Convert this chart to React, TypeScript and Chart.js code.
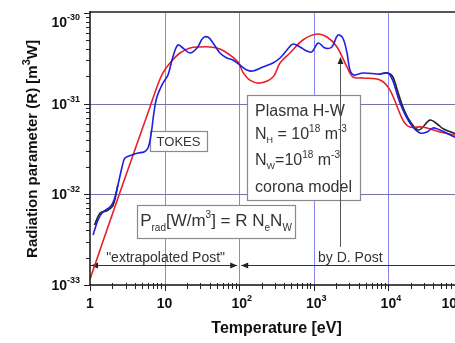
import React, { useEffect, useRef } from "react";
import { Chart, registerables } from "chart.js";

Chart.register(...registerables);

// Corona-model fit (red), temperature in eV, radiation parameter in m^3 W
const fitTemperature = [1, 2.37, 6.37, 7.9, 9.5, 11.8, 16.1, 21.9, 29.8, 40.6, 55.2, 75.2, 96.4, 112, 139, 190, 284, 352, 479, 713, 1104, 1503, 2045, 2788, 3350, 4560, 7700, 10450, 15650, 19400, 28900, 49000, 77000, 100000];
const fitRadiation = [1.16e-33, 9.1e-33, 9.2e-32, 1.53e-31, 2.18e-31, 2.81e-31, 3.62e-31, 4.11e-31, 4.22e-31, 4.22e-31, 4.01e-31, 3.44e-31, 2.88e-31, 2.23e-31, 1.82e-31, 1.69e-31, 1.97e-31, 2.81e-31, 3.62e-31, 5.04e-31, 5.86e-31, 5.43e-31, 4.22e-31, 2.53e-31, 1.97e-31, 1.92e-31, 1.82e-31, 1.42e-31, 6.6e-32, 5.53e-32, 5.53e-32, 4.87e-32, 4.52e-32, 4.29e-32];

// TOKES result (blue)
const tokesTemperature = [1.10, 1.28, 1.49, 1.85, 2.10, 2.37, 2.69, 2.94, 3.66, 4.40, 5.29, 5.99, 6.57, 7.21, 7.91, 9.52, 11.1, 12.9, 15.1, 17.6, 21.9, 27.2, 32.7, 38.0, 44.6, 55.2, 68.5, 82.6, 102, 127, 153, 208, 284, 352, 437, 527, 653, 808, 942, 1145, 1412, 1747, 2100, 2447, 2788, 3050, 3450, 4560, 7700, 9830, 11400, 14300, 19400, 26500, 32900, 39500, 49000, 77000, 100000];
const tokesRadiation = [3.56e-33, 5.21e-33, 6.38e-33, 7.24e-33, 8.66e-33, 1.27e-32, 2.0e-32, 2.52e-32, 2.72e-32, 2.86e-32, 2.93e-32, 3.24e-32, 4.51e-32, 8.09e-32, 1.19e-31, 1.69e-31, 2.07e-31, 3.27e-31, 4.44e-31, 4.11e-31, 3.62e-31, 4.11e-31, 5.30e-31, 5.43e-31, 4.67e-31, 3.62e-31, 3.19e-31, 3.03e-31, 2.67e-31, 2.35e-31, 2.29e-31, 2.53e-31, 2.81e-31, 3.19e-31, 3.91e-31, 4.55e-31, 4.22e-31, 3.81e-31, 3.72e-31, 4.67e-31, 4.11e-31, 4.22e-31, 5.71e-31, 5.30e-31, 3.62e-31, 2.35e-31, 2.07e-31, 2.18e-31, 2.12e-31, 2.18e-31, 1.82e-31, 1.02e-31, 6.12e-32, 4.75e-32, 4.87e-32, 5.40e-32, 5.13e-32, 4.29e-32, 4.07e-32];

// D. Post tabulation (black), shown at low and high temperature
const postTemperature = [1.15, 1.36, 1.69, 2.03, 2.37, 5000, 7700, 9830, 11400, 12900, 15650, 19400, 25600, 36100, 45000, 55000, 77000, 100000];
const postRadiation = [4.59e-33, 6.2e-33, 6.6e-33, 7.5e-33, 1.27e-32, null, 2.12e-31, 2.18e-31, 2.0e-31, 1.49e-31, 9.2e-32, 6.44e-32, 5.13e-32, 6.6e-32, 5.97e-32, 5.25e-32, 4.72e-32, 4.5e-32];

// Axis decades
const xDecades = [1, 10, 100, 1000, 10000, 100000];
const xTickBase = ["1", "10", "10", "10", "10", "10"];
const xTickExp = ["", "", "2", "3", "4", "5"];
const yDecades = [1e-33, 1e-32, 1e-31, 1e-30];
const yTickExp = ["-33", "-32", "-31", "-30"];

// Annotation ranges
const extrapolatedRange = [1, 100];
const postMarkerTemperature = 2240;

const FONT = "'Liberation Sans', Arial, Helvetica, sans-serif";

type Run = { t: string; dy?: number; size?: number };

function runsWidth(ctx: CanvasRenderingContext2D, runs: Run[], size: number, weight: string) {
  let w = 0;
  for (const r of runs) {
    ctx.font = `${weight} ${r.size ?? size}px ${FONT}`;
    w += ctx.measureText(r.t).width;
  }
  return w;
}

function drawRuns(
  ctx: CanvasRenderingContext2D,
  runs: Run[],
  x: number,
  y: number,
  size: number,
  weight: string,
  align: "left" | "center" | "right"
) {
  const total = runsWidth(ctx, runs, size, weight);
  let cx = align === "left" ? x : align === "center" ? x - total / 2 : x - total;
  ctx.textAlign = "left";
  ctx.textBaseline = "alphabetic";
  for (const r of runs) {
    ctx.font = `${weight} ${r.size ?? size}px ${FONT}`;
    ctx.fillText(r.t, cx, y + (r.dy ?? 0));
    cx += ctx.measureText(r.t).width;
  }
}

function arrowHead(ctx: CanvasRenderingContext2D, x: number, y: number, dir: "left" | "right" | "up") {
  const len = 7;
  const half = 3;
  ctx.beginPath();
  if (dir === "left") {
    ctx.moveTo(x, y);
    ctx.lineTo(x + len, y - half);
    ctx.lineTo(x + len, y + half);
  } else if (dir === "right") {
    ctx.moveTo(x, y);
    ctx.lineTo(x - len, y - half);
    ctx.lineTo(x - len, y + half);
  } else {
    ctx.moveTo(x, y);
    ctx.lineTo(x - half, y + len);
    ctx.lineTo(x + half, y + len);
  }
  ctx.closePath();
  ctx.fill();
}

function box(ctx: CanvasRenderingContext2D, x0: number, y0: number, x1: number, y1: number) {
  ctx.fillStyle = "#ffffff";
  ctx.fillRect(x0, y0, x1 - x0, y1 - y0);
  ctx.strokeStyle = "#8a8a8a";
  ctx.lineWidth = 1.2;
  ctx.strokeRect(x0 + 0.5, y0 + 0.5, x1 - x0, y1 - y0);
}

const framePlugin = {
  id: "frame",
  beforeDatasetsDraw(chart: any) {
    const ctx: CanvasRenderingContext2D = chart.ctx;
    const { left, right, top, bottom } = chart.chartArea;
    const xs = chart.scales.x;
    const ys = chart.scales.y;
    ctx.save();

    // decade grid
    ctx.lineWidth = 1;
    ctx.strokeStyle = "rgb(135,135,235)";
    for (const d of xDecades.slice(1, -1)) {
      const px = Math.round(xs.getPixelForValue(d)) + 0.5;
      ctx.beginPath();
      ctx.moveTo(px, top);
      ctx.lineTo(px, bottom);
      ctx.stroke();
    }
    ctx.strokeStyle = "rgb(115,115,165)";
    for (const d of yDecades.slice(1, -1)) {
      const py = Math.round(ys.getPixelForValue(d)) + 0.5;
      ctx.beginPath();
      ctx.moveTo(left, py);
      ctx.lineTo(right, py);
      ctx.stroke();
    }

    // text boxes
    box(ctx, left + 60, top + 118, left + 117, top + 138);
    ctx.fillStyle = "#333";
    drawRuns(ctx, [{ t: "TOKES" }], left + 88.5, top + 133, 13, "normal", "center");

    box(ctx, left + 157, top + 82, left + 270, top + 187);
    ctx.fillStyle = "#333";
    const tx = left + 165;
    drawRuns(ctx, [{ t: "Plasma H-W" }], tx, top + 103, 16, "normal", "left");
    drawRuns(
      ctx,
      [{ t: "N" }, { t: "H", size: 9, dy: 4 }, { t: " = 10" }, { t: "18", size: 10, dy: -7 }, { t: " m" }, { t: "-3", size: 10, dy: -7 }],
      tx, top + 126, 16, "normal", "left"
    );
    drawRuns(
      ctx,
      [{ t: "N" }, { t: "W", size: 9, dy: 4 }, { t: "=10" }, { t: "18", size: 10, dy: -7 }, { t: " m" }, { t: "-3", size: 10, dy: -7 }],
      tx, top + 152, 16, "normal", "left"
    );
    drawRuns(ctx, [{ t: "corona model" }], tx, top + 179, 16, "normal", "left");

    box(ctx, left + 47, top + 192, left + 205, top + 225);
    ctx.fillStyle = "#333";
    drawRuns(
      ctx,
      [
        { t: "P" },
        { t: "rad", size: 10, dy: 5 },
        { t: "[W/m" },
        { t: "3", size: 10, dy: -8 },
        { t: "] = R N" },
        { t: "e", size: 10, dy: 5 },
        { t: "N" },
        { t: "W", size: 10, dy: 5 },
      ],
      left + 126, top + 213, 17, "normal", "center"
    );

    // temperature ranges
    const ay = top + 252.5;
    const x1 = xs.getPixelForValue(extrapolatedRange[0]);
    const x2 = xs.getPixelForValue(extrapolatedRange[1]);
    ctx.strokeStyle = "#333";
    ctx.fillStyle = "#222";
    ctx.lineWidth = 1;
    ctx.beginPath();
    ctx.moveTo(x1, ay);
    ctx.lineTo(x2 - 2, ay);
    ctx.moveTo(x2 + 2, ay);
    ctx.lineTo(right, ay);
    ctx.stroke();
    arrowHead(ctx, x1 + 1, ay, "left");
    arrowHead(ctx, x2 - 2, ay, "right");
    arrowHead(ctx, x2 + 2, ay, "left");
    ctx.fillStyle = "#333";
    drawRuns(ctx, [{ t: "\"extrapolated Post\"" }], (x1 + x2) / 2 + 1, ay - 4, 14, "normal", "center");
    drawRuns(ctx, [{ t: "by D. Post" }], left + 228, ay - 4, 14, "normal", "left");

    // marker line at the D. Post reference temperature
    const mx = Math.round(xs.getPixelForValue(postMarkerTemperature)) + 0.5;
    ctx.strokeStyle = "#555";
    ctx.beginPath();
    ctx.moveTo(mx, top + 48);
    ctx.lineTo(mx, top + 234);
    ctx.stroke();
    ctx.fillStyle = "#222";
    arrowHead(ctx, mx, top + 44, "up");

    ctx.restore();
  },
  afterDatasetsDraw(chart: any) {
    const ctx: CanvasRenderingContext2D = chart.ctx;
    const { left, right, top, bottom } = chart.chartArea;
    const xs = chart.scales.x;
    const ys = chart.scales.y;
    ctx.save();

    // frame
    ctx.strokeStyle = "#555";
    ctx.lineWidth = 2;
    ctx.beginPath();
    ctx.moveTo(left, top - 1);
    ctx.lineTo(right + 20, top - 1);
    ctx.stroke();
    ctx.strokeStyle = "#111";
    ctx.lineWidth = 1.5;
    ctx.beginPath();
    ctx.moveTo(left, top - 2);
    ctx.lineTo(left, bottom + 1);
    ctx.moveTo(left - 1, bottom);
    ctx.lineTo(right + 20, bottom);
    ctx.stroke();

    // ticks
    ctx.lineWidth = 1;
    ctx.strokeStyle = "#222";
    ctx.beginPath();
    for (let i = 0; i < yDecades.length; i++) {
      const d = yDecades[i];
      const py = Math.round(ys.getPixelForValue(d)) + 0.5;
      ctx.moveTo(left - 6, py);
      ctx.lineTo(left, py);
      if (i < yDecades.length - 1) {
        for (let m = 2; m <= 9; m++) {
          const q = Math.round(ys.getPixelForValue(d * m)) + 0.5;
          ctx.moveTo(left - 4, q);
          ctx.lineTo(left, q);
        }
      }
    }
    for (let i = 0; i < xDecades.length; i++) {
      const d = xDecades[i];
      const px = Math.round(xs.getPixelForValue(d)) + 0.5;
      ctx.moveTo(px, bottom);
      ctx.lineTo(px, bottom + 6);
      if (i < xDecades.length - 1) {
        for (let m = 2; m <= 9; m++) {
          const q = Math.round(xs.getPixelForValue(d * m)) + 0.5;
          ctx.moveTo(q, bottom - 2);
          ctx.lineTo(q, bottom + 4);
        }
      }
    }
    ctx.stroke();

    // tick labels: the mantissa "10" sits centred on the tick, exponent to its right
    ctx.fillStyle = "#111";
    for (let i = 0; i < yDecades.length; i++) {
      let py = ys.getPixelForValue(yDecades[i]);
      if (py < top + 8) py = top + 9;
      drawRuns(ctx, [{ t: "10" }, { t: yTickExp[i], size: 9, dy: -7 }], left - 10, py + 5, 14, "bold", "right");
    }
    const canvasRight = 455;
    for (let i = 0; i < xDecades.length; i++) {
      const px = xs.getPixelForValue(xDecades[i]);
      ctx.font = `bold 14px ${FONT}`;
      const baseW = ctx.measureText(xTickBase[i]).width;
      let x0 = px - baseW / 2;
      if (x0 + baseW > canvasRight + 2) x0 = canvasRight + 2 - baseW;
      const runs: Run[] = [{ t: xTickBase[i] }];
      if (xTickExp[i]) runs.push({ t: xTickExp[i], size: 9, dy: -7 });
      drawRuns(ctx, runs, x0, bottom + 23, 14, "bold", "left");
    }

    // axis titles
    ctx.fillStyle = "#111";
    drawRuns(ctx, [{ t: "Temperature [eV]" }], (left + right) / 2, bottom + 48, 16, "bold", "center");
    ctx.save();
    ctx.translate(37, (top + bottom) / 2);
    ctx.rotate(-Math.PI / 2);
    drawRuns(
      ctx,
      [{ t: "Radiation parameter (R) [m" }, { t: "3", size: 11, dy: -7 }, { t: "W]" }],
      0, 0, 15, "bold", "center"
    );
    ctx.restore();
    ctx.restore();
  },
};

export default function App() {
  const ref = useRef<HTMLCanvasElement>(null);

  useEffect(() => {
    const canvas = ref.current;
    if (!canvas) return;
    const chart = new Chart(canvas, {
      type: "line",
      data: {
        datasets: [
          {
            label: "TOKES",
            data: tokesTemperature.map((t, i) => ({ x: t, y: tokesRadiation[i] })),
            borderColor: "#1f1fe0",
            borderWidth: 1.6,
            tension: 0.35,
          },
          {
            label: "fit",
            data: fitTemperature.map((t, i) => ({ x: t, y: fitRadiation[i] })),
            borderColor: "#e8202a",
            borderWidth: 1.6,
            tension: 0.35,
          },
          {
            label: "D. Post",
            data: postTemperature.map((t, i) => ({ x: t, y: postRadiation[i] })),
            borderColor: "#222",
            borderWidth: 1.6,
            tension: 0.35,
            spanGaps: false,
          },
        ],
      },
      options: {
        responsive: false,
        animation: false,
        devicePixelRatio: 1,
        layout: { padding: { left: 90, right: 17, top: 13, bottom: 58 } },
        scales: {
          x: { type: "logarithmic", min: 1, max: 100000, display: false },
          y: { type: "logarithmic", min: 1e-33, max: 1e-30, display: false },
        },
        plugins: { legend: { display: false }, tooltip: { enabled: false } },
        elements: { point: { radius: 0 } },
      },
      plugins: [framePlugin],
    } as any);
    return () => chart.destroy();
  }, []);

  return (
    <div
      style={{
        position: "fixed",
        left: 0,
        top: 0,
        width: 455,
        height: 343,
        overflow: "hidden",
        background: "#fff",
      }}
    >
      <canvas ref={ref} width={480} height={343} style={{ display: "block" }} />
    </div>
  );
}
